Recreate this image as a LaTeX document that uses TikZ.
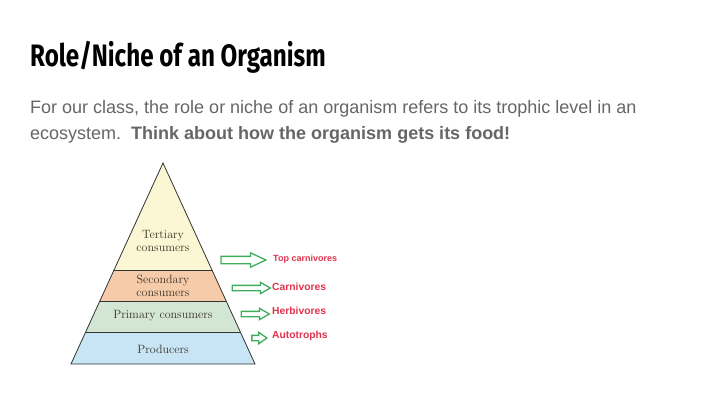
\documentclass[tikz,border=0pt]{standalone}
\usepackage{fontspec}
\setmainfont{Liberation Sans}
\newfontfamily\titlefont{Fira Sans}
\newfontfamily\pyrfont{Latin Modern Roman}
\usetikzlibrary{shapes.arrows,positioning}

\definecolor{bodygray}{HTML}{666666}
\definecolor{tertcol}{HTML}{FBF6D3}
\definecolor{seccol}{HTML}{F6CBAA}
\definecolor{primcol}{HTML}{D2E6D3}
\definecolor{prodcol}{HTML}{C8E5F5}
\definecolor{arrgreen}{HTML}{3FAE5A}
\definecolor{lblred}{HTML}{E0344E}
\definecolor{pyrtext}{HTML}{3A3226}

\tikzset{
  band/.style={draw=black!80,line width=0.8pt},
  bandtext/.style={font=\pyrfont\fontsize{12}{12.5}\selectfont,text=pyrtext,align=center,inner sep=0pt},
  greenarrow/.style={single arrow,draw=arrgreen,fill=white,line width=1.3pt,
    single arrow head indent=0pt,shape border rotate=0},
  niche/.style={font=\bfseries,text=lblred,anchor=west,inner sep=0pt}
}

\begin{document}
\begin{tikzpicture}[x=1pt,y=-1pt]
  \useasboundingbox[fill=white] (0,0) rectangle (720,405);

  % heading and text
  \node[anchor=base west,inner sep=0pt] (title) at (30,66)
    {\titlefont\bfseries\fontsize{31}{34}\selectfont\scalebox{0.78}[1]{Role/Niche of an Organism}};
  \node[anchor=base west,inner sep=0pt,text=bodygray,font=\fontsize{18}{20}\selectfont] (line1) at (30,113)
    {For our class, the role or niche of an organism refers to its trophic level in an};
  \node[anchor=base west,inner sep=0pt,text=bodygray,font=\fontsize{18}{20}\selectfont] (line2) at (30,139)
    {ecosystem.\ \ \textbf{Think about how the organism gets its food!}};

  % pyramid bands
  \fill[tertcol] (163,163) -- (212,270) -- (114,270) -- cycle;
  \fill[seccol] (114,270) -- (212,270) -- (226.2,301) -- (99.8,301) -- cycle;
  \fill[primcol] (99.8,301) -- (226.2,301) -- (240.4,332) -- (85.6,332) -- cycle;
  \fill[prodcol] (85.6,332) -- (240.4,332) -- (255,364) -- (71,364) -- cycle;
  \draw[band] (163,163) -- (255,364) -- (71,364) -- cycle;
  \draw[band] (114,270) -- (212,270);
  \draw[band] (99.8,301) -- (226.2,301);
  \draw[band] (85.6,332) -- (240.4,332);

  \node[bandtext] (tert) at (163,241) {Tertiary\\consumers};
  \node[bandtext] (sec) at (163,286) {Secondary\\consumers};
  \node[bandtext] (prim) at (163,316) {Primary consumers};
  \node[bandtext] (prod) at (163,349) {Producers};

  % arrows to the roles
  \node[greenarrow,inner sep=3pt,single arrow head extend=3.5pt,minimum height=45pt,single arrow tip angle=50] (arrTop) at (239.5,260) {};
  \node[greenarrow,inner sep=2pt,single arrow head extend=3pt,minimum height=38pt,single arrow tip angle=60] (arrCarn) at (249,288) {};
  \node[greenarrow,inner sep=2pt,single arrow head extend=3pt,minimum height=28pt,single arrow tip angle=60] (arrHerb) at (253,314) {};
  \node[greenarrow,inner sep=2pt,single arrow head extend=3pt,minimum height=15pt,single arrow tip angle=70] (arrAuto) at (257.5,338) {};

  \node[niche,font=\bfseries\fontsize{9}{10}\selectfont] (top) at (273,259) {Top carnivores};
  \node[niche,font=\bfseries\fontsize{10.3}{11}\selectfont] (carn) at (272,287) {Carnivores};
  \node[niche,font=\bfseries\fontsize{10.3}{11}\selectfont] (herb) at (272,311) {Herbivores};
  \node[niche,font=\bfseries\fontsize{10.3}{11}\selectfont] (auto) at (272,336) {Autotrophs};
\end{tikzpicture}
\end{document}
